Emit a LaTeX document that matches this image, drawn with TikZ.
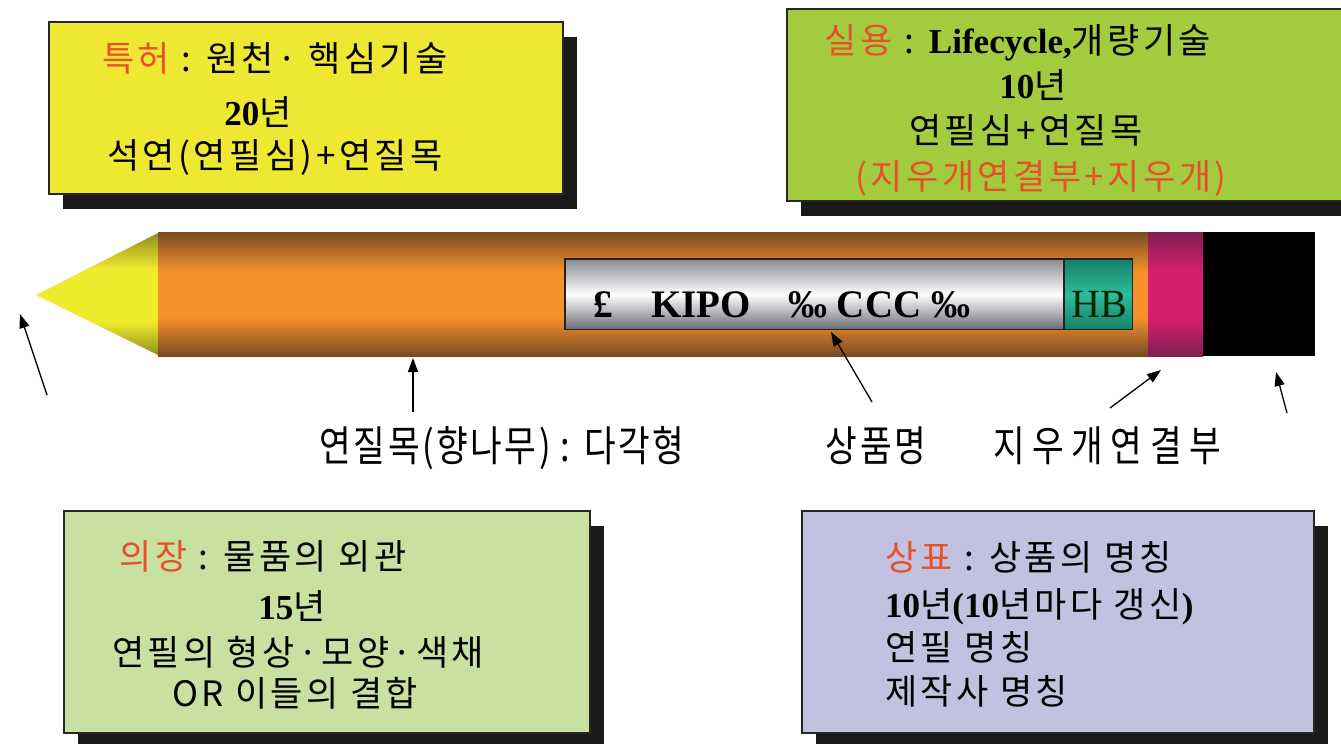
\documentclass[tikz,border=0pt]{standalone}
\usepackage{fontspec}
\setmainfont{Liberation Serif}
\newfontfamily\krfont{Noto Sans CJK KR}[LetterSpace=10]
\newfontfamily\krlabfont{Noto Sans CJK KR}[FakeStretch=0.82,LetterSpace=6]
\newfontfamily\krlabwidefont{Noto Sans CJK KR}[FakeStretch=0.82,LetterSpace=18]
\usetikzlibrary{arrows.meta,shadows}

\definecolor{patentY}{HTML}{EEE832}
\definecolor{utilG}{HTML}{A2CC3E}
\definecolor{designG}{HTML}{C8E0A0}
\definecolor{markV}{HTML}{C2C2E0}
\definecolor{hl}{HTML}{E8502A}
\definecolor{woodD}{HTML}{7A4A22}
\definecolor{woodL}{HTML}{F6922C}
\definecolor{leadY}{HTML}{EEEA2C}
\definecolor{leadD}{HTML}{8E8C1E}
\definecolor{bandP}{HTML}{D81E6E}
\definecolor{bandD}{HTML}{7E2050}
\definecolor{hbT}{HTML}{2EBC9A}
\definecolor{hbD}{HTML}{14826A}
\definecolor{plateG}{HTML}{8A8A92}
\definecolor{plateD}{HTML}{6C6C76}
\definecolor{rimK}{HTML}{2A201A}
\definecolor{shadowK}{HTML}{1A1A1A}

\newcommand\bnum[1]{{\rmfamily\bfseries #1}}

\begin{document}
\begin{tikzpicture}[x=1pt,y=-1pt,
  infobox/.style={draw=black!85, line width=1.2pt, inner sep=0pt,
    drop shadow={shadow xshift=14pt, shadow yshift=-15pt, fill=shadowK, opacity=1}},
  boxtext/.style={font=\krfont\fontsize{35}{40}\selectfont, inner sep=0pt,
    text height=30pt, text depth=4pt},
  lab/.style={font=\krlabfont\fontsize{42}{48}\selectfont, inner sep=0pt,
    text height=36pt, text depth=4pt},
  platetext/.style={font=\fontsize{39}{40}\selectfont\bfseries, inner sep=0pt, anchor=base west},
  rim/.style={draw=rimK, line width=1.4pt},
  pointer/.style={-{Triangle[length=14pt,width=10pt]}, line width=1.3pt},
]
\useasboundingbox (0,0) rectangle (1341,744);
\clip (0,0) rectangle (1341,744);
\fill[white] (0,0) rectangle (1341,744);

% ---- the four right-type boxes ----
\node[infobox, fill=patentY, minimum width=514pt, minimum height=172pt] (patent) at (306,108) {};
\node[infobox, fill=utilG, minimum width=573pt, minimum height=192pt] (utility) at (1073.5,105) {};
\node[infobox, fill=designG, minimum width=526pt, minimum height=222pt] (design) at (327,622) {};
\node[infobox, fill=markV, minimum width=512pt, minimum height=222pt] (mark) at (1058,622) {};

% ---- pencil: lead tip ----
\begin{scope}
  \clip (36,295) -- (158,233) -- (158,355) -- cycle;
  \shade[top color=leadD, bottom color=leadY] (30,232) rectangle (160,269);
  \fill[leadY] (30,268) rectangle (160,323);
  \shade[top color=leadY, bottom color=leadD] (30,322) rectangle (160,356);
\end{scope}

% ---- pencil: wooden body ----
\shade[top color=woodD, bottom color=woodL] (158,232) rectangle (1148,272);
\fill[woodL] (158,271) rectangle (1148,318);
\shade[top color=woodL, bottom color=woodD] (158,317) rectangle (1148,356);

% ---- pencil: ferrule and eraser ----
\shade[top color=bandD, bottom color=bandP] (1148,232) rectangle (1203,272);
\fill[bandP] (1148,271) rectangle (1203,318);
\shade[top color=bandP, bottom color=bandD] (1148,317) rectangle (1203,356);
\fill[black] (1203,232) rectangle (1315,356);

% ---- name plate and grade (silver and green bands) ----
\node[minimum width=499pt, minimum height=70pt, inner sep=0pt] (plate) at (814.5,294) {};
\node[minimum width=68pt, minimum height=70pt, inner sep=0pt] (grade) at (1098,294) {};
\shade[top color=plateG, bottom color=white] (plate.north west) rectangle ([yshift=-0.5pt]plate.east);
\shade[top color=white, bottom color=plateD] (plate.west) rectangle (plate.south east);
\shade[top color=hbD, bottom color=hbT] (grade.north west) rectangle ([yshift=-0.5pt]grade.east);
\shade[top color=hbT, bottom color=hbD] (grade.west) rectangle (grade.south east);
\draw[rim] (plate.north west) rectangle (plate.south east);
\draw[rim] (grade.north west) rectangle (grade.south east);
\node[platetext] (pound) at (593,317) {£};
\node[platetext] (kipo) at (651,317) {KIPO};
\node[platetext] (ccc) at (788,317) {‰ CCC ‰};
\node[font=\fontsize{40}{40}\selectfont, text=black!85!green, inner sep=0pt, anchor=base] (hb) at (1099,317) {HB};

% ---- part labels ----
\node[lab] (woodlab) at (502,445) {연질목(향나무) : 다각형};
\node[lab] (namelab) at (876,445) {\krlabfont 상품명};
\node[lab, font=\krlabwidefont\fontsize{42}{48}\selectfont] (jointlab) at (1107,445) {지우개연결부};

% ---- pointers ----
\coordinate (tipFrom) at (47,395);   \coordinate (tipTo) at (20,314);
\coordinate (woodFrom) at (413,412); \coordinate (woodTo) at (413,358);
\coordinate (nameFrom) at (872,402); \coordinate (nameTo) at (831,332);
\coordinate (bandFrom) at (1110,408); \coordinate (bandTo) at (1161,370);
\coordinate (eraserFrom) at (1287,413); \coordinate (eraserTo) at (1276,372);
\draw[pointer] (tipFrom) -- (tipTo);
\draw[pointer] (woodFrom) -- (woodTo);
\draw[pointer] (nameFrom) -- (nameTo);
\draw[pointer] (bandFrom) -- (bandTo);
\draw[pointer] (eraserFrom) -- (eraserTo);

% ---- patent ----
\node[boxtext] (p1) at (275,58) {\textcolor{hl}{특허} : 원천· 핵심기술};
\node[boxtext] (p2) at (258,112) {\bnum{20}년};
\node[boxtext] (p3) at (275,155) {석연(연필심)+연질목};

% ---- utility model ----
\node[boxtext] (u1) at (1018,40) {\textcolor{hl}{실용} : \bnum{Lifecycle,}개량기술};
\node[boxtext] (u2) at (1033,85) {\bnum{10}년};
\node[boxtext] (u3) at (1026,130) {연필심+연질목};
\node[boxtext, text=hl] (u4) at (1041,176) {(지우개연결부+지우개)};

% ---- design ----
\node[boxtext] (d1) at (263,556) {\textcolor{hl}{의장} : 물품의 외관};
\node[boxtext] (d2) at (292,606) {\bnum{15}년};
\node[boxtext] (d3) at (298,652) {연필의 형상·모양·색채};
\node[boxtext] (d4) at (295,693) {OR 이들의 결합};

% ---- trademark ----
\node[boxtext, anchor=west] (t1) at (885,557) {\textcolor{hl}{상표} : 상품의 명칭};
\node[boxtext, anchor=west] (t2) at (885,604) {\bnum{10}년\bnum{(10}년마다 갱신\bnum{)}};
\node[boxtext, anchor=west] (t3) at (885,647) {연필 명칭};
\node[boxtext, anchor=west] (t4) at (885,691) {제작사 명칭};
\end{tikzpicture}
\end{document}
